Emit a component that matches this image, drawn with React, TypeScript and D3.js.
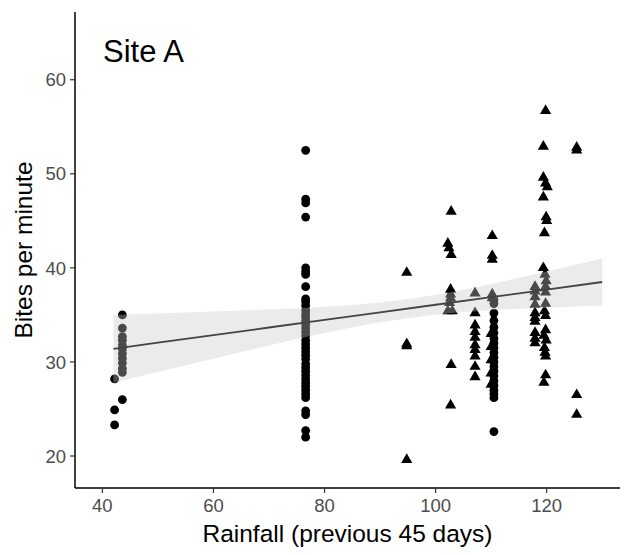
import React from "react";
import * as d3 from "d3";

// ---- data ----
const xTicks = [40, 60, 80, 100, 120];
const yTicks = [20, 30, 40, 50, 60];

// circles: [rainfall, bites]
const circlePts: [number, number][] = [
  [42.2, 28.2], [42.2, 24.9], [42.2, 23.3],
  [43.6, 35.0], [43.6, 33.6], [43.6, 32.7], [43.6, 32.3], [43.6, 31.8], [43.6, 31.4],
  [43.6, 30.9], [43.6, 30.4], [43.6, 29.9], [43.6, 29.3], [43.6, 28.9], [43.6, 26.0],
  [76.6, 52.5], [76.6, 47.3], [76.6, 46.9], [76.6, 45.4], [76.6, 40.0], [76.6, 39.6],
  [76.6, 39.3], [76.6, 38.0], [76.6, 36.7], [76.6, 36.4], [76.6, 36.0], [76.6, 35.5],
  [76.6, 35.1], [76.6, 34.8], [76.6, 34.4], [76.6, 34.0], [76.6, 33.6], [76.6, 33.2],
  [76.6, 32.8], [76.6, 32.3], [76.6, 31.9], [76.6, 31.5], [76.6, 31.1], [76.6, 30.7],
  [76.6, 30.3], [76.6, 29.8], [76.6, 29.4], [76.6, 29.0], [76.6, 28.6], [76.6, 28.2],
  [76.6, 27.8], [76.6, 27.4], [76.6, 27.0], [76.6, 26.6], [76.6, 26.2], [76.6, 24.8],
  [76.6, 24.4], [76.6, 22.7], [76.6, 22.0],
  [110.5, 36.6], [110.5, 36.2], [110.5, 35.2], [110.5, 34.4], [110.5, 33.7], [110.5, 33.1],
  [110.5, 32.5], [110.5, 32.0], [110.5, 31.5], [110.5, 31.0], [110.5, 30.5], [110.5, 30.0],
  [110.5, 29.5], [110.5, 29.0], [110.5, 28.5], [110.5, 28.0], [110.5, 27.5], [110.5, 27.0],
  [110.5, 26.6], [110.5, 26.2], [110.5, 22.6],
];

// triangles: [rainfall, bites]
const trianglePts: [number, number][] = [
  [94.8, 39.5], [94.8, 31.9], [94.8, 31.7], [94.8, 19.6],
  [102.8, 46.0], [102.2, 42.6], [102.4, 42.1], [102.8, 41.4], [102.7, 37.7], [102.7, 37.2],
  [102.7, 36.8], [102.5, 36.3], [102.2, 35.4], [103.0, 35.4], [102.8, 29.7], [102.7, 25.4],
  [107.1, 37.3], [107.1, 35.2], [107.1, 33.9], [107.1, 33.2], [107.1, 32.6], [107.1, 31.8],
  [107.1, 31.3], [107.1, 30.6], [107.1, 29.5], [107.1, 28.4],
  [110.2, 43.4], [110.2, 41.3], [110.2, 40.9], [110.2, 37.2], [110.2, 36.8],
  [110.0, 33.0], [110.0, 31.6], [110.0, 30.2], [110.0, 28.8], [110.0, 27.6],
  [117.9, 38.0], [117.9, 37.5], [117.9, 36.9], [117.9, 36.1], [117.9, 35.2], [117.9, 34.7],
  [117.9, 34.3], [117.9, 33.1], [117.9, 32.5], [117.9, 32.0],
  [119.8, 56.7], [119.4, 52.9], [119.4, 49.6], [119.8, 49.0], [120.1, 48.6], [119.4, 47.5],
  [119.9, 45.4], [120.0, 45.0], [119.6, 43.7], [119.4, 40.0], [119.7, 39.3], [119.9, 38.6],
  [119.8, 38.0], [119.8, 37.4], [119.8, 36.2], [119.6, 35.4], [119.8, 34.9], [119.8, 33.4],
  [119.5, 32.8], [119.9, 32.3], [119.6, 31.5], [119.7, 31.0], [119.8, 30.6], [119.8, 28.6],
  [119.5, 27.8],
  [125.4, 52.8], [125.4, 52.5], [125.4, 26.5], [125.4, 24.4],
];

// fitted line and confidence band
const fitX = [42, 50, 60, 70, 80, 90, 100, 110, 120, 130];
const fitY = [31.4, 32.05, 32.85, 33.66, 34.47, 35.27, 36.08, 36.89, 37.69, 38.5];
const ciLow = [27.8, 28.94, 30.35, 31.74, 33.07, 34.22, 35.03, 35.49, 35.77, 36.0];
const ciHigh = [35.0, 35.16, 35.35, 35.58, 35.87, 36.32, 37.13, 38.29, 39.61, 41.0];

const W = 624;
const H = 555;
const left = 75;
const right = 620;
const top = 12;
const bottom = 488;

export default function App() {
  const x = d3.scaleLinear().domain([35.07, 133.2]).range([left, right]);
  const y = d3.scaleLinear().domain([16.6, 67.2]).range([bottom, top]);

  const band = d3
    .area<number>()
    .x((_, i) => x(fitX[i]))
    .y0((_, i) => y(ciLow[i]))
    .y1((_, i) => y(ciHigh[i]))
    .curve(d3.curveMonotoneX)(fitX);
  const line = d3
    .line<number>()
    .x((_, i) => x(fitX[i]))
    .y((_, i) => y(fitY[i]))(fitX);

  const tri = d3.symbol().type(d3.symbolTriangle).size(54)();
  const font = "'Liberation Sans', Arial, Helvetica, sans-serif";

  return (
    <svg
      width={W}
      height={H}
      style={{ position: "absolute", left: 0, top: 0, background: "#fff" }}
      fontFamily={font}
    >
      <rect width={W} height={H} fill="#fff" />
      {circlePts.map(([a, b], i) => (
        <circle key={"c" + i} cx={x(a)} cy={y(b)} r={4.4} fill="#000" />
      ))}
      {trianglePts.map(([a, b], i) => (
        <path key={"t" + i} d={tri!} transform={`translate(${x(a)},${y(b)})`} fill="#000" />
      ))}
      <path d={band!} fill="rgb(200,200,200)" fillOpacity={0.37} />
      <path d={line!} fill="none" stroke="#444" strokeWidth={1.8} />

      {/* axes */}
      <line x1={left} x2={left} y1={top} y2={bottom} stroke="#000" strokeWidth={1.5} />
      <line x1={left} x2={right} y1={bottom} y2={bottom} stroke="#000" strokeWidth={1.5} />
      {yTicks.map((t) => (
        <g key={"y" + t}>
          <line x1={left - 5} x2={left} y1={y(t)} y2={y(t)} stroke="#333" strokeWidth={1.2} />
          <text x={left - 9} y={y(t)} dy="0.36em" textAnchor="end" fontSize={18.5} fill="#4d4d4d">
            {t}
          </text>
        </g>
      ))}
      {xTicks.map((t) => (
        <g key={"x" + t}>
          <line x1={x(t)} x2={x(t)} y1={bottom} y2={bottom + 5} stroke="#333" strokeWidth={1.2} />
          <text x={x(t)} y={bottom + 24} textAnchor="middle" fontSize={18.5} fill="#4d4d4d">
            {t}
          </text>
        </g>
      ))}
      <text x={(left + right) / 2} y={542} textAnchor="middle" fontSize={24.5} fill="#000">
        Rainfall (previous 45 days)
      </text>
      <text
        transform={`translate(32,${(top + bottom) / 2}) rotate(-90)`}
        textAnchor="middle"
        fontSize={24.5}
        fill="#000"
      >
        Bites per minute
      </text>
      <text x={103} y={62} fontSize={31} fill="#000">
        Site A
      </text>
    </svg>
  );
}
